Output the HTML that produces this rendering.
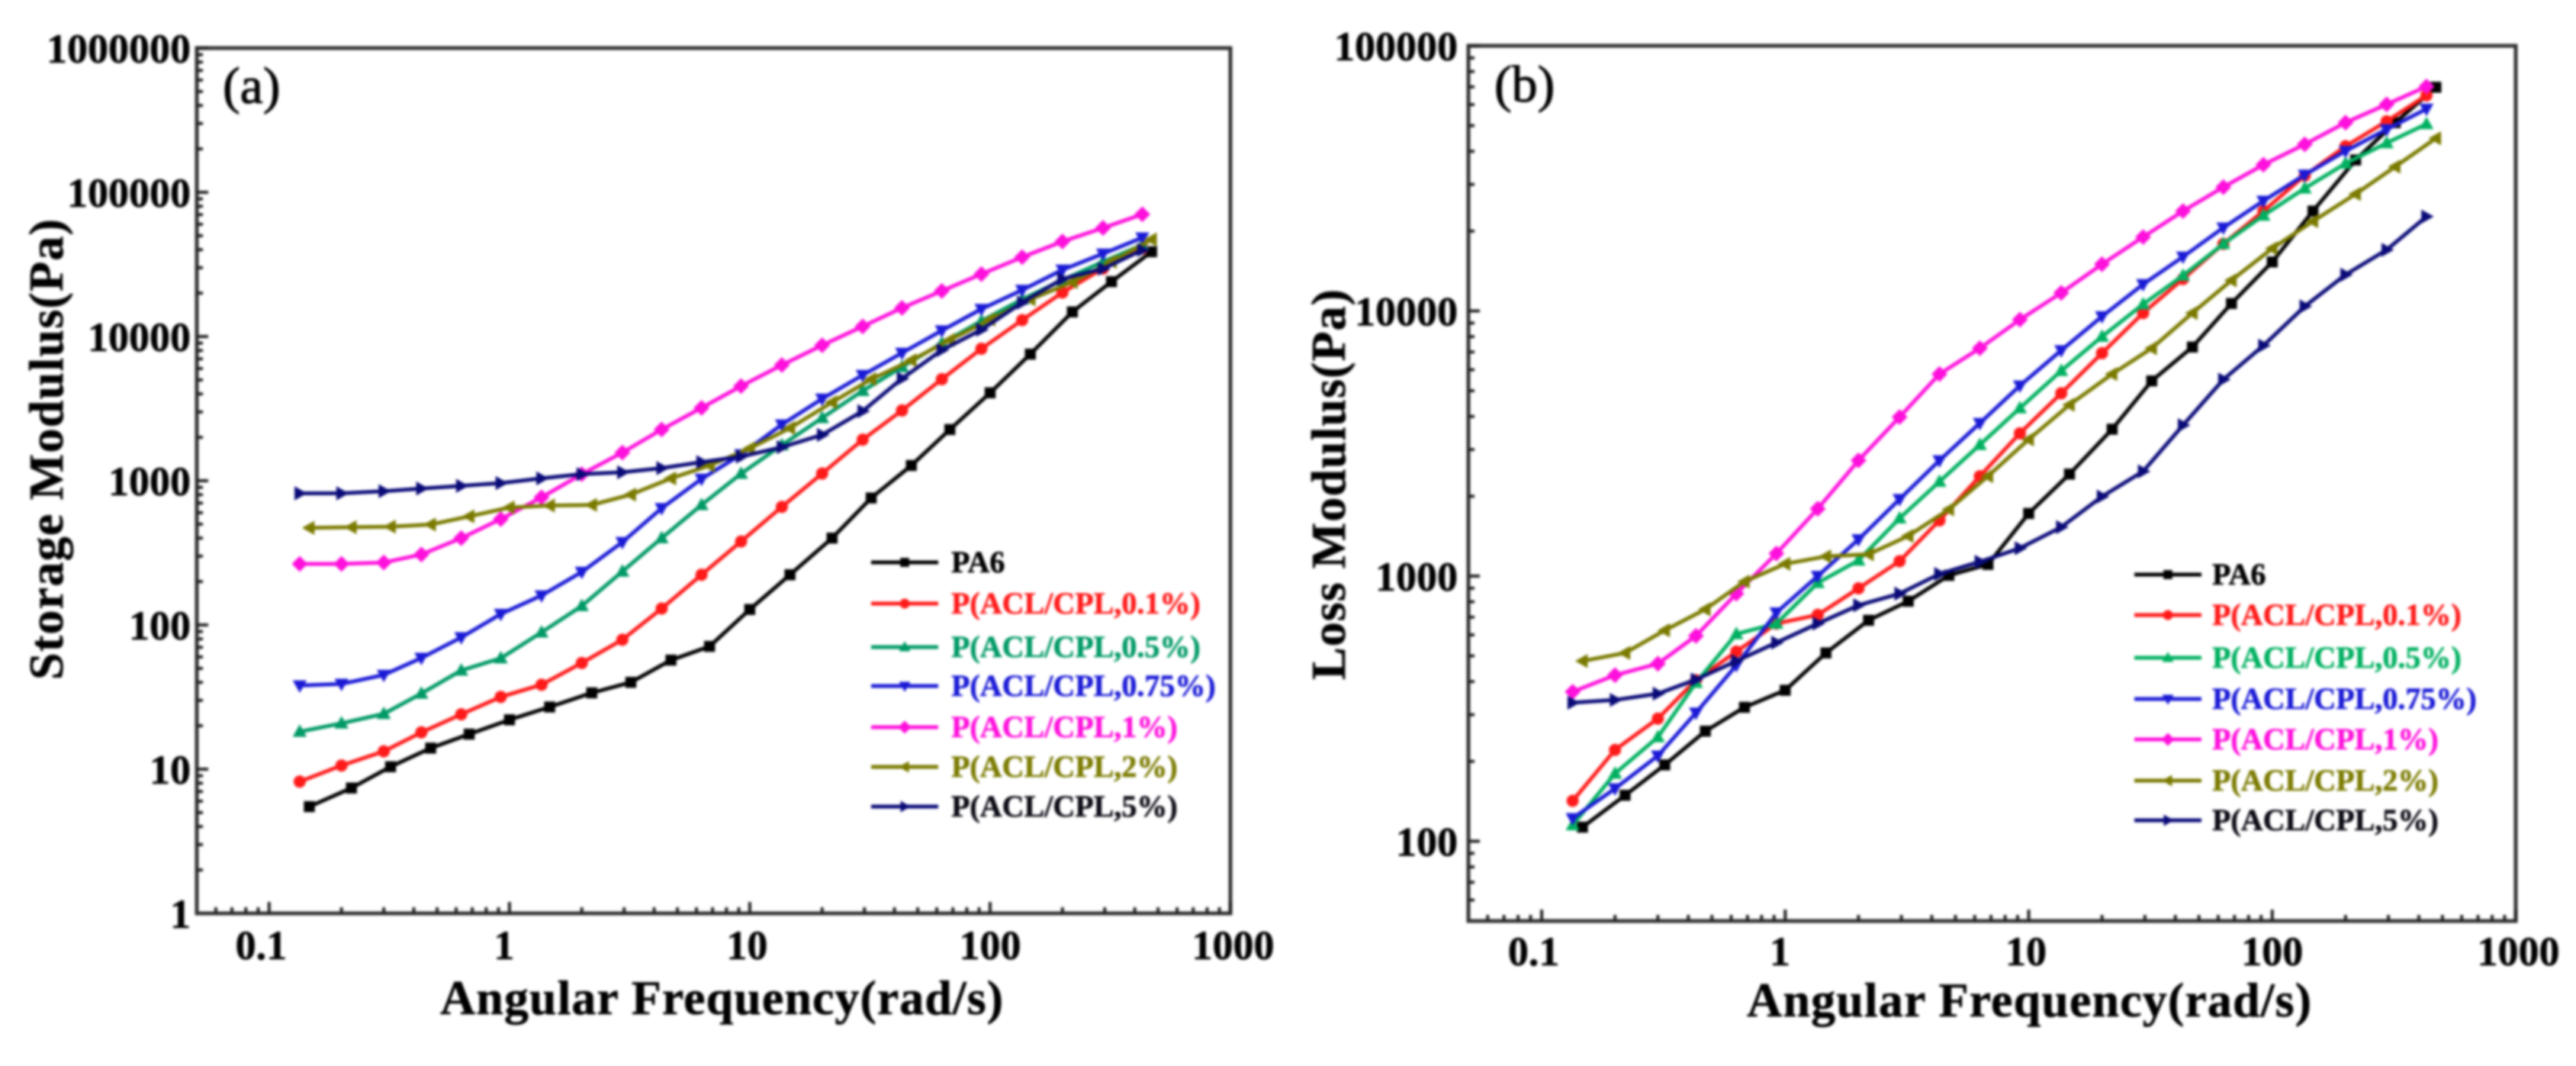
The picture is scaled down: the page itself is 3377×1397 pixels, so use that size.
<!DOCTYPE html>
<html lang="en">
<head>
<meta charset="utf-8">
<title>Storage and loss modulus versus angular frequency</title>
<style>
html,body{margin:0;padding:0;background:#fff;width:3377px;height:1397px;overflow:hidden}
#figure{display:block;filter:blur(1.6px)}
text{font-family:"Liberation Serif",serif;font-weight:bold;fill:#000;stroke:#000;stroke-width:0.6}
</style>
</head>
<body>
<svg id="figure" xmlns="http://www.w3.org/2000/svg" width="3377" height="1397" viewBox="0 0 3377 1397">
  <rect x="0" y="0" width="3377" height="1397" fill="#ffffff"/>
  <g id="panel-a">
    <text x="292" y="135" font-size="68" style="font-weight:normal;stroke-width:1">(a)</text>
    <text transform="translate(82,891) rotate(-90)" font-size="64" textLength="604" lengthAdjust="spacing">Storage Modulus(Pa)</text>
    <text x="577" y="1329" font-size="64" textLength="738" lengthAdjust="spacing">Angular Frequency(rad/s)</text>
  </g>
  <g id="panel-b">
    <text x="1959" y="133" font-size="68" style="font-weight:normal;stroke-width:1">(b)</text>
    <text transform="translate(1763,891) rotate(-90)" font-size="64" textLength="512" lengthAdjust="spacing">Loss Modulus(Pa)</text>
    <text x="2290" y="1332" font-size="64" textLength="740" lengthAdjust="spacing">Angular Frequency(rad/s)</text>
  </g>
</svg>
<script>
// Shared measured frequencies (rad/s)
var freqMain = [0.134,0.2,0.3,0.43,0.63,0.92,1.36,2,2.95,4.3,6.3,9.2,13.6,20,29.5,43,63,92,136,200,295,430];
var freqOffset = [0.147,0.22,0.32,0.47,0.68,1,1.47,2.2,3.2,4.7,6.8,10,14.7,22,32,47,68,100,147,220,320,470];

// Series labels
var seriesLabels = ['PA6','P(ACL/CPL,0.1%)','P(ACL/CPL,0.5%)','P(ACL/CPL,0.75%)','P(ACL/CPL,1%)','P(ACL/CPL,2%)','P(ACL/CPL,5%)'];

// Panel (a) storage modulus, Pa
var storagePA6 = [5.5,7.4,10.4,14,17.5,22,27,33.8,40,57,71,128,223,400,759,1276,2265,4070,7550,14800,24000,38700];
var storage01 = [8.2,10.6,13.3,18,24,31.7,38.5,54.5,79,130,223,379,659,1122,1927,3070,5060,8230,13000,20200,29600,40900];
var storage05 = [18.2,20.8,24.2,33.5,48.4,58.8,88.8,135.5,235,400,680,1120,1766,2725,4200,6140,8970,12800,18100,24600,33000,43200];
var storage075 = [38,39,45,59,82,119,160,233,375,645,1030,1520,2450,3700,5400,7700,11000,15500,21000,29000,37500,48500];
var storage1 = [265,265,271,308,400,542,767,1110,1567,2265,3200,4530,6340,8690,11750,15800,20700,27100,35500,45600,56600,70300];
var storage2 = [471,476,480,497,566,652,673,680,801,1038,1276,1674,2317,3497,5055,6840,9470,13100,18100,23800,33000,47100];
var storage5 = [818,818,846,883,922,963,1038,1110,1145,1222,1346,1469,1709,2080,3036,5108,8054,11140,17200,25100,29500,39800];

// Panel (b) loss modulus, Pa
var lossPA6 = [113,149,194,260,320,371,513,681,804,1006,1106,1722,2425,3580,5445,7310,10670,15300,23800,37100,51300,69800];
var loss01 = [142,221,290,405,519,662,714,899,1138,1622,2380,3455,4890,6930,9820,13200,17900,23800,32400,41800,51900,65000];
var loss05 = [115,180,247,396,605,662,943,1146,1652,2270,3126,4300,5945,8000,10600,13600,17900,22900,29000,36000,43000,50700];
var loss075 = [122,158,210,305,461,728,1000,1375,1950,2730,3775,5225,7100,9530,12600,16000,20600,26000,32600,40100,48400,57800];
var loss1 = [366,423,467,595,858,1216,1794,2730,3980,5780,7230,9270,11700,15000,19000,23800,29300,35600,42500,51300,60100,70200];
var loss2 = [478,513,624,749,953,1112,1186,1208,1416,1784,2382,3275,4426,5780,7230,9820,13040,17200,21800,27600,35000,44800];
var loss5 = [333,341,360,407,478,561,662,776,858,1018,1132,1274,1530,1995,2483,3707,5510,7400,10400,13700,17000,22700];

// Tick values
var xTickLabels = ['0.1','1','10','100','1000'];
var yTickLabelsA = ['1','10','100','1000','10000','100000','1000000'];
var yTickLabelsB = ['100','1000','10000','100000'];

var NS = 'http://www.w3.org/2000/svg';

function make(tag, parent) {
  var el = document.createElementNS(NS, tag);
  parent.appendChild(el);
  return el;
}

function markerPath(kind, cx, cy, r) {
  var p;
  if (kind === 'square') p = [[-0.9,-0.9],[0.9,-0.9],[0.9,0.9],[-0.9,0.9]];
  if (kind === 'up') p = [[0,-1.2],[1.15,0.85],[-1.15,0.85]];
  if (kind === 'down') p = [[0,1.2],[1.15,-0.85],[-1.15,-0.85]];
  if (kind === 'diamond') p = [[0,-1.3],[1.3,0],[0,1.3],[-1.3,0]];
  if (kind === 'left') p = [[-1.2,0],[0.85,-1.15],[0.85,1.15]];
  if (kind === 'right') p = [[1.2,0],[-0.85,-1.15],[-0.85,1.15]];
  return p.map(function (q) { return (cx + q[0] * r).toFixed(1) + ',' + (cy + q[1] * r).toFixed(1); }).join(' ');
}

function drawMarker(parent, kind, cx, cy, r, color, name) {
  var m;
  if (kind === 'circle') {
    m = make('circle', parent);
    m.setAttribute('cx', cx);
    m.setAttribute('cy', cy);
    m.setAttribute('r', r);
  } else {
    m = make('polygon', parent);
    m.setAttribute('points', markerPath(kind, cx, cy, r));
  }
  m.setAttribute('fill', color);
  
  
}

function drawPanel(cfg) {
  var root = document.getElementById(cfg.id);
  var lx0 = Math.log10(cfg.xMin), lx1 = Math.log10(cfg.xMax);
  var ly0 = Math.log10(cfg.yMin), ly1 = Math.log10(cfg.yMax);
  function X(v) { return cfg.left + (Math.log10(v) - lx0) / (lx1 - lx0) * (cfg.right - cfg.left); }
  function Y(v) { return cfg.bottom - (Math.log10(v) - ly0) / (ly1 - ly0) * (cfg.bottom - cfg.top); }

  // frame
  var frame = make('rect', root);
  frame.setAttribute('x', cfg.left);
  frame.setAttribute('y', cfg.top);
  frame.setAttribute('width', cfg.right - cfg.left);
  frame.setAttribute('height', cfg.bottom - cfg.top);
  frame.setAttribute('fill', 'none');
  frame.setAttribute('stroke', '#333333');
  frame.setAttribute('stroke-width', '5');
  
  

  // ticks
  var ticks = make('g', root);
  ticks.setAttribute('stroke', '#222222');
  ticks.setAttribute('stroke-width', '4');
  
  
  for (var d = Math.floor(lx0); d < lx1 + 0.001; d++) {
    for (var k = 1; k < 10; k++) {
      var xv = k * Math.pow(10, d);
      if (xv < cfg.xMin * 1.001 || xv > cfg.xMax * 1.001) continue;
      var xt = make('line', ticks);
      xt.setAttribute('x1', X(xv));
      xt.setAttribute('x2', X(xv));
      xt.setAttribute('y1', cfg.bottom);
      xt.setAttribute('y2', cfg.bottom - (k === 1 ? 15 : 8));
      
      
    }
  }
  for (var e = Math.floor(ly0); e < ly1 + 0.001; e++) {
    for (var j = 1; j < 10; j++) {
      var yv = j * Math.pow(10, e);
      if (yv < cfg.yMin * 1.001 || yv > cfg.yMax * 1.001) continue;
      var yt = make('line', ticks);
      yt.setAttribute('y1', Y(yv));
      yt.setAttribute('y2', Y(yv));
      yt.setAttribute('x1', cfg.left);
      yt.setAttribute('x2', cfg.left + (j === 1 ? 15 : 8));
      
      
    }
  }

  // tick labels
  xTickLabels.forEach(function (lab, i) {
    var t = make('text', root);
    t.textContent = lab;
    t.setAttribute('x', X(Number(lab)) + cfg.xLabelShift * (i - 3));
    t.setAttribute('y', cfg.xLabelY);
    t.setAttribute('font-size', '54');
    t.setAttribute('text-anchor', 'middle');
    
    
  });
  cfg.yLabels.forEach(function (lab) {
    var t = make('text', root);
    t.textContent = lab;
    t.setAttribute('x', cfg.yLabelX);
    t.setAttribute('y', Y(Number(lab)) + 19);
    t.setAttribute('font-size', '54');
    t.setAttribute('text-anchor', 'end');
    
    
  });

  // series
  cfg.series.forEach(function (vals, s) {
    var xs = cfg.styles[s].offset ? freqOffset : freqMain;
    var color = cfg.styles[s].color;
    var group = make('g', root);
    
    
    var pts = vals.map(function (v, i) { return X(xs[i]).toFixed(1) + ',' + Y(v).toFixed(1); }).join(' ');
    var line = make('polyline', group);
    line.setAttribute('points', pts);
    line.setAttribute('fill', 'none');
    line.setAttribute('stroke', color);
    line.setAttribute('stroke-width', '5');
    line.setAttribute('stroke-linejoin', 'round');
    
    
    vals.forEach(function (v, i) {
      drawMarker(group, cfg.styles[s].marker, X(xs[i]), Y(v), 8, color, 'data-point');
    });
  });

  // legend
  var legend = make('g', root);
  
  
  seriesLabels.forEach(function (lab, s) {
    var color = cfg.styles[s].color;
    var ly = cfg.legendY[s];
    var entry = make('g', legend);
    
    
    var sw = make('line', entry);
    sw.setAttribute('x1', cfg.legendLine[0]);
    sw.setAttribute('x2', cfg.legendLine[1]);
    sw.setAttribute('y1', ly);
    sw.setAttribute('y2', ly);
    sw.setAttribute('stroke', color);
    sw.setAttribute('stroke-width', '5');
    
    
    drawMarker(entry, cfg.styles[s].marker, (cfg.legendLine[0] + cfg.legendLine[1]) / 2, ly, 6.5, color, 'legend-marker');
    var t = make('text', entry);
    t.textContent = lab;
    t.setAttribute('x', cfg.legendTextX);
    t.setAttribute('y', ly + 13);
    t.setAttribute('font-size', '40');
    t.style.fill = cfg.styles[s].textColor || color;
    t.style.stroke = cfg.styles[s].textColor || color;
    
    
  });
}

drawPanel({
  id: 'panel-a', left: 258, right: 1613, top: 63, bottom: 1197,
  xMin: 0.05, xMax: 1000, yMin: 1, yMax: 1000000,
  xLabelY: 1257, xLabelShift: 3.5, yLabelX: 250, yLabels: yTickLabelsA,
  legendY: [737,791,848,899,953,1005,1057], legendLine: [1142,1230], legendTextX: 1247,
  series: [storagePA6, storage01, storage05, storage075, storage1, storage2, storage5],
  styles: [
    {color:'#000000', marker:'square', offset:true},
    {color:'#ff1a1a', marker:'circle'},
    {color:'#009966', marker:'up'},
    {color:'#1a1ad6', marker:'down'},
    {color:'#ff10dc', marker:'diamond'},
    {color:'#7a7a00', marker:'left', offset:true},
    {color:'#0a0a78', marker:'right', textColor:'#0a0a14'}
  ]
});

drawPanel({
  id: 'panel-b', left: 1925, right: 3298, top: 60, bottom: 1207,
  xMin: 0.05, xMax: 1000, yMin: 50, yMax: 100000,
  xLabelY: 1265, xLabelShift: 3.5, yLabelX: 1911, yLabels: yTickLabelsB,
  legendY: [753,806,862,916,969,1023,1075], legendLine: [2798,2886], legendTextX: 2900,
  series: [lossPA6, loss01, loss05, loss075, loss1, loss2, loss5],
  styles: [
    {color:'#000000', marker:'square', offset:true},
    {color:'#ff1a1a', marker:'circle'},
    {color:'#00b060', marker:'up'},
    {color:'#1a1ad6', marker:'down'},
    {color:'#ff10dc', marker:'diamond'},
    {color:'#7a7a00', marker:'left', offset:true},
    {color:'#0a0a78', marker:'right', textColor:'#0a0a14'}
  ]
});
</script>
</body>
</html>
